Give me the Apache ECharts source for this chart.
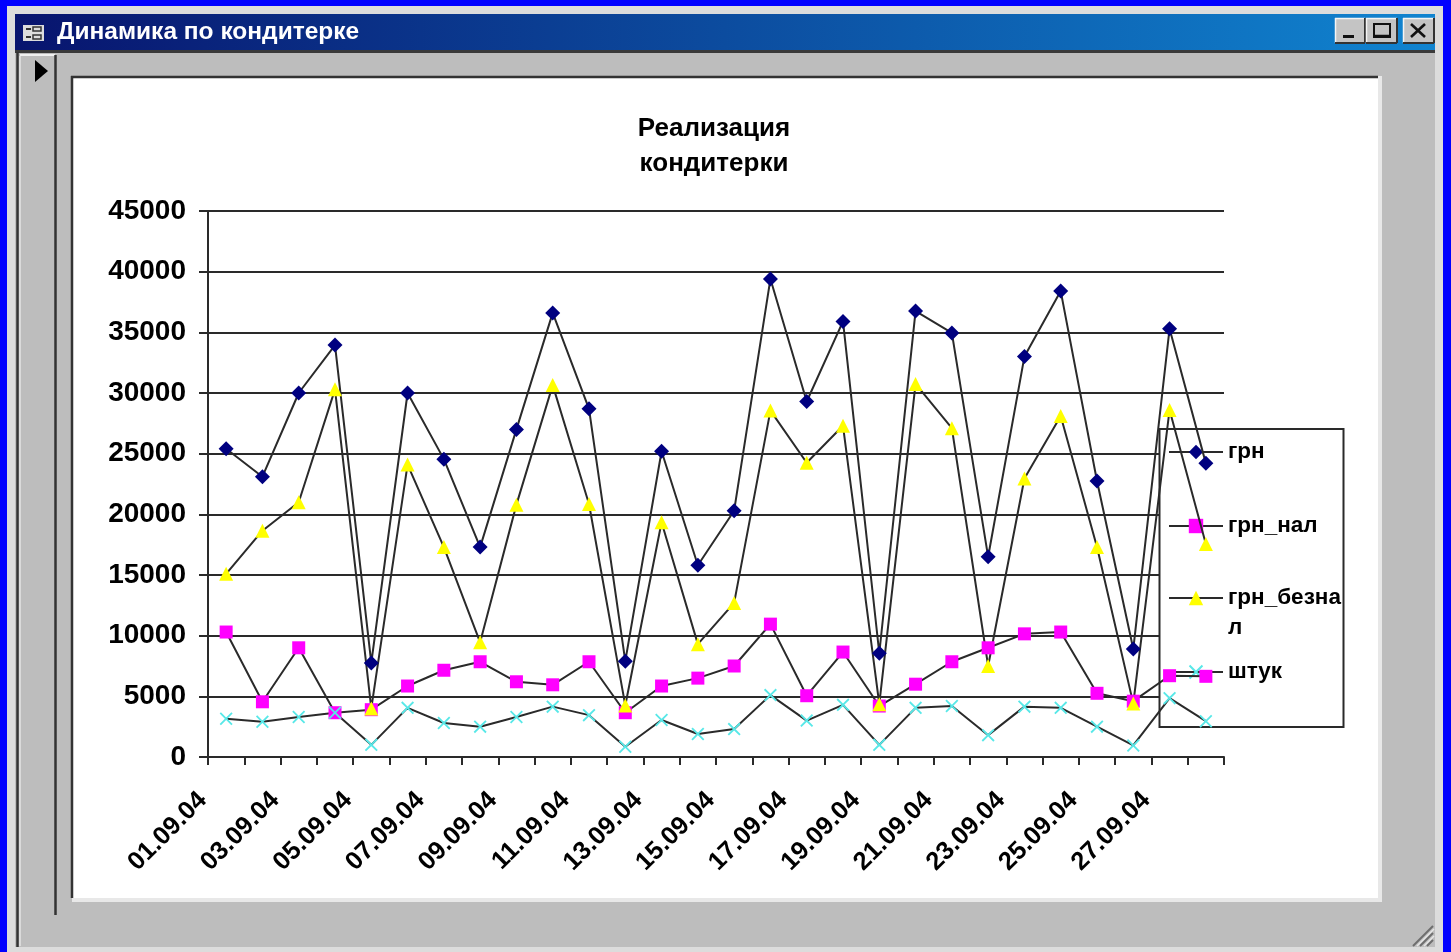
<!DOCTYPE html>
<html><head><meta charset="utf-8">
<style>html,body{margin:0;padding:0;background:#0000ff;overflow:hidden}#c{width:1451px;height:952px}</style>
<script src="https://cdn.jsdelivr.net/npm/echarts@6/dist/echarts.min.js"></script>
</head><body><div id="c"></div>
<script>
const categories = ['01.09.04','02.09.04','03.09.04','04.09.04','05.09.04','06.09.04','07.09.04','08.09.04','09.09.04','10.09.04','11.09.04','12.09.04','13.09.04','14.09.04','15.09.04','16.09.04','17.09.04','18.09.04','19.09.04','20.09.04','21.09.04','22.09.04','23.09.04','24.09.04','25.09.04','26.09.04','27.09.04','28.09.04'];
const grn = [25400,23100,30000,33950,7750,30000,24550,17300,27000,36600,28700,7900,25200,15800,20300,39400,29300,35900,8550,36750,34950,16500,33000,38400,22750,8900,35300,24200];
const grnNal = [10300,4550,9000,3650,3900,5850,7150,7850,6200,5950,7850,3650,5850,6500,7500,10950,5050,8650,4200,6000,7850,9000,10150,10300,5250,4600,6700,6650];
const grnBeznal = [15100,18650,21000,30300,4000,24100,17300,9450,20800,30650,20850,4250,19350,9300,12700,28550,24250,27300,4350,30750,27100,7500,22950,28100,17300,4400,28600,17550];
const shtuk = [3150,2900,3300,3650,1000,4050,2800,2500,3300,4150,3450,850,3050,1900,2300,5100,3000,4300,1000,4050,4200,1800,4150,4050,2500,950,4850,2950];

const LINE = '#2a2a2a', FONT = '"Liberation Sans", Arial, sans-serif';
const crossPath = 'path://M1 0L5 4L9 0L10 1L6 5L10 9L9 10L5 6L1 10L0 9L4 5L0 1Z';
function mkSeries(name, data, symbol, size, color){
  return {name, type:'line', data, symbol, symbolSize:size, z:3,
    showAllSymbol:true, animation:false, silent:true,
    lineStyle:{color:LINE,width:2}, itemStyle:{color}};
}
function mkLegend(name, top, fmt){
  return {show:true, data:[name], left:1168, top, orient:'vertical', z:1, padding:0,
    itemWidth:54, itemHeight:18, selectedMode:false, backgroundColor:'transparent',
    formatter: fmt || (n=>n),
    textStyle:{fontFamily:FONT,fontWeight:'bold',fontSize:22.5,color:'#000',lineHeight:30}};
}
function R(x,y,w,h,fill,z){return {type:'rect',silent:true,z:z===undefined?-5:z,shape:{x,y,width:w,height:h},style:{fill}};}
function L(x1,y1,x2,y2,stroke,w,z){return {type:'line',silent:true,z:z===undefined?-4:z,shape:{x1,y1,x2,y2},style:{stroke,lineWidth:w||1}};}
function btn(x,y,w,h){return [R(x,y,w,h,'#c4c4c4',-4),L(x,y+.5,x+w,y+.5,'#f4f4f4',1.5,-3),L(x+.5,y,x+.5,y+h,'#f4f4f4',1.5,-3),L(x,y+h,x+w,y+h,'#333',2,-3),L(x+w,y,x+w,y+h,'#333',2,-3)];}

const chrome = [
  R(7,6,1436,946,'#dcdcdc',-6),
  R(15,14,1420,933,'#bdbdbd',-5),
  {type:'rect',silent:true,z:-4,shape:{x:15,y:14,width:1420,height:36},style:{fill:new echarts.graphic.LinearGradient(0,0,1,0,[{offset:0,color:'#08146e'},{offset:1,color:'#1084d0'}])}},
  L(15,51.5,1435,51.5,'#3a3a3a',3),
  L(17.5,52,17.5,947,'#333',2.5),
  R(20,56,35,859,'#bdbdbd',-4),
  L(20,55,55,55,'#f0f0f0',2),
  L(20,56,20,946,'#e4e4e4',1.5),
  L(55.5,55,55.5,915,'#333',2.5),
  {type:'polygon',silent:true,z:-3,shape:{points:[[35,60],[48,71],[35,82]]},style:{fill:'#000'}},
  R(72,76,1310,826,'#e8e8e8',-4),
  R(72,76,1306,822,'#ffffff',-3.5),
  L(71,77,1378,77,'#333',2.5,-3),
  L(72,76,72,898,'#333',2.5,-3),
  // title bar
  R(23,25,21,16,'#dcdcdc',-3),
  L(26,29,31,29,'#333',2,-2),L(26,37,31,37,'#333',2,-2),
  {type:'rect',silent:true,z:-2,shape:{x:33,y:27,width:8,height:4},style:{fill:'none',stroke:'#333',lineWidth:1.5}},
  {type:'rect',silent:true,z:-2,shape:{x:33,y:35,width:8,height:4},style:{fill:'none',stroke:'#333',lineWidth:1.5}},
  {type:'text',silent:true,z:-2,style:{x:57,y:32,text:'Динамика по кондитерке',fill:'#fff',font:'bold 24.5px "Liberation Sans", Arial, sans-serif',textVerticalAlign:'middle'}},
  ...btn(1335,18,30,25),...btn(1366,18,31,25),...btn(1403,18,31,25),
  R(1343,35,11,3,'#111',-2),
  {type:'rect',silent:true,z:-2,shape:{x:1374,y:24,width:16,height:13},style:{fill:'none',stroke:'#111',lineWidth:2}},
  L(1374,35.5,1390,35.5,'#111',1.5,-2),
  L(1411,24,1425,37,'#111',2.6,-2),L(1425,24,1411,37,'#111',2.6,-2),
  // size grip
  L(1413,946,1433,926,'#6e6e6e',2,-3),L(1420,946,1433,933,'#6e6e6e',2,-3),L(1427,946,1433,940,'#6e6e6e',2,-3),
  L(1417,946,1434,929,'#e6e6e6',1.5,-3),L(1424,946,1434,936,'#e6e6e6',1.5,-3),
  // legend frame: above the gridlines, below the data lines
  {type:'rect',silent:true,z:0.5,shape:{x:1159.5,y:429,width:184,height:298},style:{fill:'#fff',stroke:'#2a2a2a',lineWidth:2}}
];

const chart = echarts.init(document.getElementById('c'),null,{renderer:'canvas'});
chart.setOption({
  animation:false,
  backgroundColor:'#0000ff',
  title:{text:'Реализация\nкондитерки',left:709,top:106,textAlign:'center',
    textStyle:{fontFamily:FONT,fontWeight:'bold',fontSize:26,color:'#000',lineHeight:35}},
  grid:{left:208,top:211,width:1016,height:546,containLabel:false},
  legend:[
    mkLegend('грн',437),
    mkLegend('грн_нал',511),
    mkLegend('грн_безнал',553,()=>'\nгрн_безна\nл'),
    mkLegend('штук',657)
  ],
  xAxis:{type:'category',data:categories,boundaryGap:true,
    axisLine:{onZero:false,lineStyle:{color:LINE,width:2}},
    axisTick:{show:true,interval:0,length:8,lineStyle:{color:LINE,width:2}},
    axisLabel:{interval:1,rotate:45,margin:16,padding:[0,33,0,0],
      fontFamily:FONT,fontWeight:'bold',fontSize:25.5,color:'#000'},
    splitLine:{show:false}},
  yAxis:{type:'value',min:0,max:45000,interval:5000,
    axisLine:{show:true,lineStyle:{color:LINE,width:2}},
    axisTick:{show:true,length:9,lineStyle:{color:LINE,width:2}},
    axisLabel:{margin:22,fontFamily:FONT,fontWeight:'bold',fontSize:28,color:'#000',formatter:v=>String(v)},
    splitLine:{show:true,lineStyle:{color:LINE,width:2,type:'solid'}}},
  series:[
    mkSeries('грн',grn,'diamond',15,'#000080'),
    mkSeries('грн_нал',grnNal,'rect',13,'#ff00ff'),
    mkSeries('грн_безнал',grnBeznal,'triangle',14,'#ffff00'),
    mkSeries('штук',shtuk,crossPath,13,'#58e8e8')
  ],
  graphic:{elements:chrome}
});
</script></body></html>
